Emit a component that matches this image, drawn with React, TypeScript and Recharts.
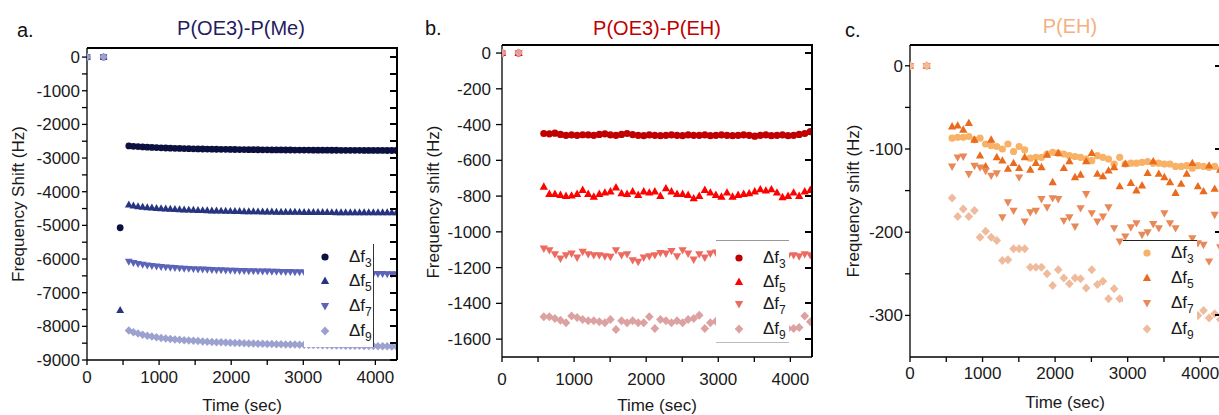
import React from 'react';
import { ScatterChart, Scatter, XAxis, YAxis } from 'recharts';

const FONT = '"Liberation Sans", Arial, sans-serif';

// time stamps (sec)
const timesA = [
  0, 230, 460, 580, 644, 708, 772, 836, 900, 964, 1028, 1092, 1156, 1220, 1284, 1348, 1412, 1476, 1540,
  1604, 1668, 1732, 1796, 1860, 1924, 1988, 2052, 2116, 2180, 2244, 2308, 2372, 2436, 2500, 2564, 2628,
  2692, 2756, 2820, 2884, 2948, 3012, 3076, 3140, 3204, 3268, 3332, 3396, 3460, 3524, 3588, 3652, 3716,
  3780, 3844, 3908, 3972, 4036, 4100, 4164, 4228, 4292,
];
const timesBC = [
  0, 230, 580, 657, 734, 811, 888, 965, 1042, 1119, 1196, 1273, 1350, 1427, 1504, 1581, 1658, 1735, 1812,
  1889, 1966, 2043, 2120, 2197, 2274, 2351, 2428, 2505, 2582, 2659, 2736, 2813, 2890, 2967, 3044, 3121,
  3198, 3275, 3352, 3429, 3506, 3583, 3660, 3737, 3814, 3891, 3968, 4045, 4122, 4199, 4276,
];

// a. P(OE3)-P(Me)
const meF3 = [
  0, 0, -5070,
  -2640, -2650, -2660, -2668, -2676, -2683, -2690, -2696, -2701, -2706, -2711, -2715, -2719, -2722, -2726,
  -2729, -2731, -2734, -2736, -2738, -2740, -2742, -2744, -2746, -2747, -2749, -2750, -2752, -2753, -2754,
  -2755, -2757, -2758, -2759, -2760, -2761, -2762, -2762, -2763, -2764, -2765, -2766, -2766, -2767, -2768,
  -2768, -2769, -2770, -2770, -2771, -2771, -2772, -2773, -2773, -2774, -2774, -2775, -2775, -2776,
];
const meF5 = [
  0, 0, -7520,
  -4390, -4420, -4440, -4455, -4468, -4480, -4490, -4500, -4508, -4515, -4522, -4528, -4534, -4540, -4545,
  -4550, -4555, -4559, -4563, -4567, -4570, -4574, -4577, -4580, -4583, -4586, -4588, -4590, -4592, -4594,
  -4596, -4598, -4600, -4601, -4603, -4604, -4606, -4607, -4608, -4609, -4610, -4611, -4612, -4613, -4614,
  -4615, -4615, -4616, -4617, -4617, -4618, -4618, -4619, -4619, -4620, -4620, -4621, -4621, -4622,
];
const meF7 = [
  0, 0, null,
  -6070, -6110, -6140, -6165, -6185, -6200, -6215, -6228, -6240, -6250, -6260, -6270, -6278, -6285, -6292,
  -6300, -6306, -6312, -6318, -6323, -6328, -6333, -6337, -6341, -6345, -6349, -6352, -6356, -6359, -6362,
  -6365, -6368, -6371, -6374, -6377, -6380, -6383, -6386, -6389, -6392, -6395, -6398, -6401, -6404, -6407,
  -6410, -6413, -6416, -6419, -6422, -6425, -6428, -6431, -6434, -6437, -6440, -6443, -6446, -6449,
];
const meF9 = [
  0, 0, null,
  -8120, -8175, -8215, -8250, -8280, -8305, -8325, -8343, -8360, -8375, -8388, -8400, -8411, -8421, -8430,
  -8439, -8447, -8455, -8462, -8469, -8475, -8481, -8487, -8492, -8497, -8502, -8507, -8511, -8515, -8519,
  -8523, -8527, -8530, -8534, -8537, -8540, -8543, -8546, -8549, -8552, -8555, -8558, -8561, -8563, -8566,
  -8568, -8571, -8573, -8576, -8578, -8580, -8583, -8585, -8587, -8589, -8592, -8594, -8596, -8598,
];

// b. P(OE3)-P(EH)
const oehF3 = [
  0, 0,
  -450, -452, -448, -455, -460, -458, -460, -457, -458, -460, -455, -452, -458, -460, -455, -450, -456,
  -460, -462, -458, -460, -462, -460, -458, -460, -462, -458, -460, -460, -458, -462, -460, -458, -460,
  -462, -460, -458, -460, -465, -460, -458, -462, -460, -458, -462, -460, -455, -450, -440,
];
const oehF5 = [
  0, 0,
  -748, -789, -789, -794, -800, -798, -789, -766, -789, -804, -789, -781, -775, -752, -785, -789, -775,
  -794, -775, -781, -775, -800, -757, -775, -789, -789, -794, -813, -800, -766, -781, -794, -804, -781,
  -804, -794, -789, -785, -775, -763, -770, -763, -781, -807, -800, -781, -800, -775, -766,
];
const oehF7 = [
  0, 0,
  -1093, -1102, -1124, -1149, -1130, -1121, -1143, -1111, -1124, -1130, -1130, -1136, -1139, -1102, -1130,
  -1124, -1158, -1167, -1143, -1136, -1130, -1117, -1121, -1106, -1136, -1102, -1121, -1154, -1124, -1143,
  -1121, -1115, -1130, -1125, -1140, -1120, -1135, -1128, -1118, -1132, -1140, -1125, -1130, -1122, -1135,
  -1130, -1136, -1124, -1130,
];
const oehF9 = [
  0, 0,
  -1475, -1475, -1484, -1494, -1509, -1471, -1479, -1490, -1497, -1497, -1503, -1509, -1490, -1546, -1497,
  -1509, -1497, -1509, -1509, -1475, -1540, -1490, -1497, -1509, -1497, -1509, -1490, -1484, -1466, -1540,
  -1509, -1500, -1495, -1510, -1490, -1505, -1500, -1515, -1495, -1505, -1500, -1510, -1495, -1520, -1540,
  -1540, -1535, -1471, -1503,
];

// c. P(EH)
const ehF3 = [
  0, 0,
  -87, -86, -86, -85, -89, -87, -94, -96, -97, -100, -94, -103, -97, -101, -111, -110, -110, -106, -104,
  -105, -106, -108, -109, -110, -112, -114, -108, -110, -112, -118, -110, -118, -117, -117, -116, -115,
  -117, -117, -118, -118, -121, -121, -120, -123, -120, -121, -122, -121, -125,
];
const ehF5 = [
  0, 0,
  -73, -72, -77, -69, -89, -108, -121, -89, -110, -114, -124, -117, -123, -110, -125, -117, -122, -107,
  -140, -105, -123, -115, -134, -131, -115, -105, -130, -133, -126, -122, -145, -118, -141, -150, -144,
  -129, -115, -130, -134, -140, -153, -142, -130, -117, -145, -151, -120, -148, -125,
];
const ehF7 = [
  0, 0,
  -121, -110, -109, -130, -120, -122, -126, -132, -129, -182, -164, -174, -134, -187, -176, -174, -160,
  -170, -159, -160, -186, -182, -193, -171, -154, -177, -187, -181, -170, -195, -211, -205, -194, -189,
  -203, -200, -190, -195, -177, -189, -195, -225, -232, -207, -213, -215, -235, -179, -218,
];
const ehF9 = [
  0, 0,
  -159, -181, -172, -181, -174, -206, -199, -206, -210, -234, -233, -220, -220, -220, -242, -242, -242,
  -250, -264, -245, -255, -262, -255, -256, -267, -245, -263, -259, -280, -268, -280, -282, -285, -278,
  -290, -284, -288, -292, -286, -290, -295, -291, -289, -285, -300, -294, -303, -298, -305,
];

const X_MAX = 4300;
const xTicks = [0, 500, 1000, 1500, 2000, 2500, 3000, 3500, 4000];
const yTicksA = [-9000, -8500, -8000, -7500, -7000, -6500, -6000, -5500, -5000, -4500, -4000, -3500, -3000, -2500, -2000, -1500, -1000, -500, 0];
const yTicksB = [-1600, -1400, -1200, -1000, -800, -600, -400, -200, 0];
const yTicksC = [-300, -250, -200, -150, -100, -50, 0];
const yRightC = [-300, -200, -100, 0];
const subs = ['3', '5', '7', '9'];

const W = 410;
const H = 415;
const X_AXIS_H = 40;

type Kind = 'circle' | 'up' | 'down' | 'diamond';
const kinds: Kind[] = ['circle', 'up', 'down', 'diamond'];

function Glyph({ kind, color, r, x, y }: { kind: Kind; color: string; r: number; x: number; y: number }) {
  if (kind === 'circle') return <circle cx={x} cy={y} r={r} fill={color} />;
  if (kind === 'up')
    return <polygon points={`${x},${y - r * 1.25} ${x - r * 1.15},${y + r * 0.8} ${x + r * 1.15},${y + r * 0.8}`} fill={color} />;
  if (kind === 'down')
    return <polygon points={`${x},${y + r * 1.25} ${x - r * 1.15},${y - r * 0.8} ${x + r * 1.15},${y - r * 0.8}`} fill={color} />;
  return <polygon points={`${x},${y - r * 1.25} ${x + r * 1.2},${y} ${x},${y + r * 1.25} ${x - r * 1.2},${y}`} fill={color} />;
}

const shapeFor = (kind: Kind, color: string, r: number) => (p: any) => {
  if (p.cx == null || p.cy == null) return <g />;
  return <Glyph kind={kind} color={color} r={r} x={p.cx} y={p.cy} />;
};

function toPoints(times: number[], vals: (number | null)[]) {
  return times.map((t, i) => ({ t, v: vals[i] })).filter((p) => p.v !== null);
}

type LegendCfg = {
  left: number;
  top: number;
  width: number;
  height: number;
  rows: number[];
  mx: number;
  tx: number;
  border: React.CSSProperties;
};

type PanelProps = {
  left: number;
  times: number[];
  values: (number | null)[][];
  colors: string[];
  r: number;
  yDomain: [number, number];
  yTicks: number[];
  yRight: number[];
  yStep: number;
  margin: { top: number; right: number; bottom: number; left: number };
  yWidth: number;
  xTickMargin: number;
  yTickSize: number;
  yTickMargin: number;
  legend: LegendCfg;
};

function Panel(p: PanelProps) {
  const tickStyle = { fontSize: 17, fill: '#1a1a1a', fontFamily: FONT };
  const line = { stroke: '#000', strokeWidth: 1.3 };
  const lg = p.legend;
  // plot box, used only for the top/right frame of the panel
  const pl = p.margin.left + p.yWidth;
  const pr = W - p.margin.right;
  const pt = p.margin.top;
  const pb = H - p.margin.bottom - X_AXIS_H;
  const [y0, y1] = p.yDomain;
  const tickY = (v: number) => pt + ((y1 - v) / (y1 - y0)) * (pb - pt);
  return (
    <div style={{ position: 'absolute', left: p.left, top: 0, width: W, height: H }}>
      <ScatterChart width={W} height={H} margin={p.margin}>
        <XAxis
          dataKey="t"
          type="number"
          domain={[0, X_MAX]}
          allowDataOverflow
          ticks={xTicks}
          tickFormatter={(v: number) => (v % 1000 === 0 ? String(v) : '')}
          tick={tickStyle}
          tickSize={5}
          tickMargin={p.xTickMargin}
          axisLine={line}
          tickLine={line}
          height={X_AXIS_H}
        />
        <YAxis
          dataKey="v"
          type="number"
          domain={p.yDomain}
          allowDataOverflow
          ticks={p.yTicks}
          tickFormatter={(v: number) => (v % p.yStep === 0 ? String(v) : '')}
          tick={tickStyle}
          tickSize={p.yTickSize}
          tickMargin={p.yTickMargin}
          axisLine={line}
          tickLine={line}
          width={p.yWidth}
        />
        {p.values.map((vals, i) => (
          <Scatter
            key={i}
            name={'Δf' + subs[i]}
            data={toPoints(p.times, vals)}
            fill={p.colors[i]}
            shape={shapeFor(kinds[i], p.colors[i], p.r)}
            isAnimationActive={false}
          />
        ))}
      </ScatterChart>
      {/* top and right edges of the frame, with inward ticks on the right */}
      <div
        style={{
          position: 'absolute',
          left: pl,
          top: pt - 1,
          width: pr - pl + 1,
          height: pb - pt + 1,
          borderTop: '2px solid #000',
          borderRight: '2px solid #000',
          boxSizing: 'border-box',
          pointerEvents: 'none',
        }}
      />
      {p.yRight.map((v) => (
        <div
          key={v}
          style={{
            position: 'absolute',
            left: pr - 7,
            top: tickY(v) - 1,
            width: 7,
            height: 0,
            borderTop: '2px solid #000',
            pointerEvents: 'none',
          }}
        />
      ))}
      <div
        style={{
          position: 'absolute',
          left: lg.left,
          top: lg.top,
          width: lg.width,
          height: lg.height,
          background: '#fff',
          boxSizing: 'border-box',
          ...lg.border,
        }}
      >
        {p.colors.map((c, i) => (
          <div key={i} style={{ position: 'absolute', left: 0, top: lg.rows[i] - 12, width: '100%', height: 24 }}>
            <svg width={14} height={14} style={{ position: 'absolute', left: lg.mx - 7, top: 5 }}>
              <Glyph kind={kinds[i]} color={c} r={3.6} x={7} y={7} />
            </svg>
            <span
              style={{
                position: 'absolute',
                left: lg.tx,
                top: 0,
                fontSize: 17,
                lineHeight: '24px',
                fontFamily: FONT,
                color: '#1a1a1a',
                whiteSpace: 'nowrap',
              }}
            >
              Δf<span style={{ fontSize: 12, position: 'relative', top: 5 }}>{subs[i]}</span>
            </span>
          </div>
        ))}
      </div>
    </div>
  );
}

export default function App() {
  return (
    <div style={{ position: 'absolute', left: 0, top: 0, width: 1219, height: 415, overflow: 'hidden', background: '#fff', fontFamily: FONT }}>
      <Panel
        left={0}
        times={timesA}
        values={[meF3, meF5, meF7, meF9]}
        colors={['#0b1040', '#27347f', '#5b64b8', '#9ca1cf']}
        r={3.4}
        yDomain={[-9000, 270]}
        yTicks={yTicksA}
        yRight={yTicksA}
        yStep={1000}
        margin={{ top: 48, right: 13, bottom: 15, left: 20 }}
        yWidth={67}
        xTickMargin={6}
        yTickSize={5}
        yTickMargin={2}
        legend={{ left: 304, top: 244, width: 70, height: 103, rows: [13, 37, 62, 87], mx: 21, tx: 45, border: { borderRight: '1px solid #333' } }}
      />
      <Panel
        left={410}
        times={timesBC}
        values={[oehF3, oehF5, oehF7, oehF9]}
        colors={['#c00000', '#ff0000', '#ec6a60', '#dca2a2']}
        r={3.6}
        yDomain={[-1700, 45]}
        yTicks={yTicksB}
        yRight={yTicksB}
        yStep={200}
        margin={{ top: 45, right: 8, bottom: 18, left: 20 }}
        yWidth={72}
        xTickMargin={11}
        yTickSize={6}
        yTickMargin={5}
        legend={{ left: 306, top: 240, width: 73, height: 103, rows: [17, 41, 63, 88], mx: 23, tx: 47, border: { borderTop: '1px solid #999', borderBottom: '1px solid #bbb' } }}
      />
      <Panel
        left={820}
        times={timesBC}
        values={[ehF3, ehF5, ehF7, ehF9]}
        colors={['#f7b267', '#ea6a1e', '#e8895a', '#efbb9c']}
        r={3.6}
        yDomain={[-350, 25]}
        yTicks={yTicksC}
        yRight={yRightC}
        yStep={100}
        margin={{ top: 45, right: 8, bottom: 18, left: 20 }}
        yWidth={70}
        xTickMargin={5}
        yTickSize={5}
        yTickMargin={2}
        legend={{ left: 303, top: 240, width: 74, height: 100, rows: [12, 37, 62, 88], mx: 24, tx: 48, border: { borderTop: '1px solid #222' } }}
      />
      <svg width={1219} height={415} style={{ position: 'absolute', left: 0, top: 0, pointerEvents: 'none' }} fontFamily={FONT}>
        <text x={17} y={37} fontSize={20} fill="#111">a.</text>
        <text x={241} y={35} fontSize={20} fill="#1f2060" textAnchor="middle">P(OE3)-P(Me)</text>
        <text x={425} y={35} fontSize={20} fill="#111">b.</text>
        <text x={657} y={35} fontSize={20} fill="#c00000" textAnchor="middle">P(OE3)-P(EH)</text>
        <text x={845} y={37} fontSize={20} fill="#111">c.</text>
        <text x={1070} y={33} fontSize={20} fill="#f4b183" textAnchor="middle">P(EH)</text>
        <text transform="translate(24,204) rotate(-90)" fontSize={17} fill="#1a1a1a" textAnchor="middle">Frequency Shift (Hz)</text>
        <text transform="translate(439,202) rotate(-90)" fontSize={17} fill="#1a1a1a" textAnchor="middle">Frequency shift (Hz)</text>
        <text transform="translate(859,201) rotate(-90)" fontSize={17} fill="#1a1a1a" textAnchor="middle">Frequency shift (Hz)</text>
        <text x={242} y={411} fontSize={17} fill="#1a1a1a" textAnchor="middle">Time (sec)</text>
        <text x={657} y={411} fontSize={17} fill="#1a1a1a" textAnchor="middle">Time (sec)</text>
        <text x={1065} y={408} fontSize={17} fill="#1a1a1a" textAnchor="middle">Time (sec)</text>
      </svg>
    </div>
  );
}
